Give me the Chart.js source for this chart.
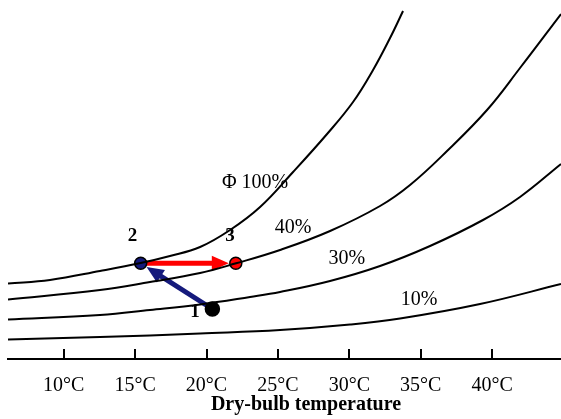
<!DOCTYPE html>
<html>
<head>
<meta charset="utf-8">
<script src="https://cdn.jsdelivr.net/npm/chart.js@4.4.1/dist/chart.umd.min.js"></script>
<style>
  html, body { margin: 0; padding: 0; background: #fff; }
  canvas { display: block; }
</style>
</head>
<body>
<canvas id="psyChart" width="561" height="419"></canvas>
<script>
// ==============================
// DATA (dry-bulb °C, moisture content)
// ==============================
const tempTicks = [10, 15, 20, 25, 30, 35, 40];
const tickLabels = ["10°C", "15°C", "20°C", "25°C", "30°C", "35°C", "40°C"];
const axisTitle = "Dry-bulb temperature";

const rh100Temp = [6.10, 9.04, 12.54, 15.39, 17.44, 19.55, 21.65, 23.75, 26.06, 28.44, 30.26, 31.66, 32.85, 33.76];
const rh100Moist = [7.55, 7.9, 8.8, 9.6, 10.3, 11.2, 12.9, 15.2, 18.7, 22.5, 25.7, 28.9, 32.1, 34.8];

const rh40Temp = [6.10, 12.54, 16.04, 19.55, 22.07, 25.15, 28.65, 32.15, 34.25, 36.84, 39.64, 41.95, 44.82];
const rh40Moist = [5.95, 6.9, 7.7, 8.6, 9.57, 10.9, 12.8, 15.3, 17.4, 20.8, 24.9, 29.1, 34.5];

const rh30Temp = [6.10, 12.54, 16.04, 19.55, 23.05, 25.15, 28.65, 32.15, 35.65, 39.36, 41.95, 44.82];
const rh30Moist = [3.95, 4.4, 4.9, 5.45, 6.2, 6.7, 7.8, 9.3, 11.3, 13.9, 16.2, 19.5];

const rh10Temp = [6.10, 12.54, 16.04, 19.55, 25.15, 30.05, 33.55, 39.15, 44.82];
const rh10Moist = [1.95, 2.2, 2.35, 2.55, 2.9, 3.45, 4.05, 5.5, 7.5];

// states 1, 2, 3
const stateNames = ["1", "2", "3"];
const stateTemp = [20.41, 15.39, 22.05];
const stateMoist = [5.0, 9.57, 9.57];

// curve / state label anchors (data units)
const curveNames = ["Φ 100%", "40%", "30%", "10%"];
const curveLabelTemp = [23.40, 26.06, 29.82, 34.88];
const curveLabelMoist = [17.6, 13.1, 10.05, 5.9];
const stateLabelTemp = [19.19, 14.82, 21.65];
const stateLabelMoist = [4.65, 12.3, 12.3];

// process arrows: [from state, to state]
const processFrom = [0, 1];
const processTo = [1, 2];

// ==============================
// HELPERS
// ==============================
const NAVY = "#151a7c";
const RED = "#ff0000";
const SERIF = "'Liberation Serif', 'Times New Roman', serif";

function toPoints(xs, ys) {
  return xs.map((x, i) => ({ x: x, y: ys[i] }));
}

function curve(xs, ys) {
  return {
    type: "scatter",
    data: toPoints(xs, ys),
    showLine: true,
    borderColor: "#000",
    borderWidth: 2,
    pointRadius: 0,
    tension: 0.4
  };
}

function drawArrow(ctx, x1, y1, x2, y2, color, shorten) {
  const dx = x2 - x1, dy = y2 - y1;
  const len = Math.hypot(dx, dy);
  const ux = dx / len, uy = dy / len;
  const tx = x2 - ux * shorten, ty = y2 - uy * shorten;
  const headLen = 17, headHalf = 7.5;
  const bx = tx - ux * headLen, by = ty - uy * headLen;

  ctx.save();
  ctx.strokeStyle = color;
  ctx.fillStyle = color;
  ctx.lineWidth = 5;
  ctx.beginPath();
  ctx.moveTo(x1, y1);
  ctx.lineTo(bx + ux * 2, by + uy * 2);
  ctx.stroke();

  ctx.beginPath();
  ctx.moveTo(tx, ty);
  ctx.lineTo(bx - uy * headHalf, by + ux * headHalf);
  ctx.lineTo(bx + uy * headHalf, by - ux * headHalf);
  ctx.closePath();
  ctx.fill();
  ctx.restore();
}

// ==============================
// OVERLAY PLUGIN (arrows, labels, inner ticks, title)
// ==============================
const overlay = {
  id: "overlay",
  beforeDatasetDraw(chart, args) {
    if (args.index !== 4) return;
    const xs = chart.scales.x, ys = chart.scales.y;
    const ctx = chart.ctx;
    processFrom.forEach((f, i) => {
      const t = processTo[i];
      drawArrow(ctx,
        xs.getPixelForValue(stateTemp[f]), ys.getPixelForValue(stateMoist[f]),
        xs.getPixelForValue(stateTemp[t]), ys.getPixelForValue(stateMoist[t]),
        i === 0 ? NAVY : RED, 7);
    });
  },
  afterDraw(chart) {
    const xs = chart.scales.x, ys = chart.scales.y;
    const ctx = chart.ctx;
    const bottom = chart.chartArea.bottom;

    ctx.save();
    // tick marks pointing up into the plot
    ctx.strokeStyle = "#000";
    ctx.lineWidth = 2;
    tempTicks.forEach(v => {
      const px = Math.round(xs.getPixelForValue(v));
      ctx.beginPath();
      ctx.moveTo(px, bottom);
      ctx.lineTo(px, bottom - 10);
      ctx.stroke();
    });

    ctx.fillStyle = "#000";
    ctx.textAlign = "center";
    ctx.textBaseline = "middle";

    ctx.font = "20px " + SERIF;
    curveNames.forEach((name, i) => {
      ctx.fillText(name, xs.getPixelForValue(curveLabelTemp[i]), ys.getPixelForValue(curveLabelMoist[i]));
    });

    ctx.font = "bold 19px " + SERIF;
    stateNames.forEach((name, i) => {
      ctx.fillText(name, xs.getPixelForValue(stateLabelTemp[i]), ys.getPixelForValue(stateLabelMoist[i]));
    });

    ctx.font = "bold 20px " + SERIF;
    ctx.fillText(axisTitle, 306, bottom + 46);
    ctx.restore();
  }
};

// ==============================
// CHART
// ==============================
const ctx = document.getElementById("psyChart");

new Chart(ctx, {
  data: {
    datasets: [
      curve(rh100Temp, rh100Moist),
      curve(rh40Temp, rh40Moist),
      curve(rh30Temp, rh30Moist),
      curve(rh10Temp, rh10Moist),
      {
        type: "scatter",
        data: toPoints(stateTemp, stateMoist),
        pointRadius: [7, 6, 6],
        pointBackgroundColor: ["#000", NAVY, RED],
        pointBorderColor: "#000",
        pointBorderWidth: 1.5
      }
    ]
  },
  options: {
    responsive: false,
    animation: false,
    layout: { autoPadding: false, padding: { left: 8, right: 0, top: 9, bottom: 0 } },
    plugins: {
      legend: { display: false },
      tooltip: { enabled: false }
    },
    scales: {
      x: {
        type: "linear",
        min: 6.10,
        max: 44.82,
        grid: { display: false },
        border: { display: true, color: "#000", width: 2 },
        afterBuildTicks: scale => {
          scale.ticks = tempTicks.map(v => ({ value: v }));
        },
        afterFit: scale => {
          scale.height = 60;
          scale.paddingLeft = 0;
          scale.paddingRight = 0;
        },
        ticks: {
          color: "#000",
          padding: 7,
          maxRotation: 0,
          font: { family: SERIF, size: 20 },
          callback: value => tickLabels[tempTicks.indexOf(value)]
        }
      },
      y: {
        display: false,
        min: 0,
        max: 35
      }
    }
  },
  plugins: [overlay]
});
</script>
</body>
</html>
